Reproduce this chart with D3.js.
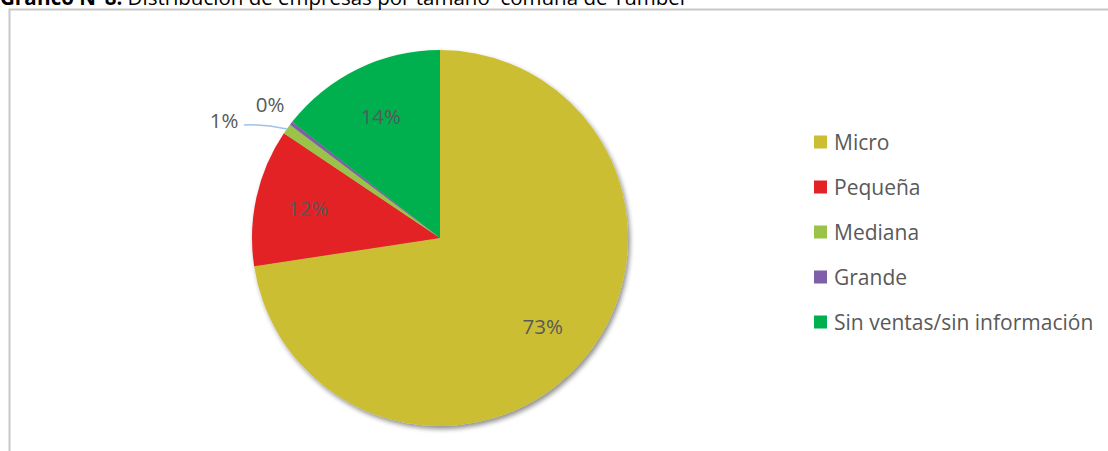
<!DOCTYPE html>
<html><head><meta charset="utf-8">
<script src="https://cdn.jsdelivr.net/npm/d3@7/dist/d3.min.js"></script>
<style>body{margin:0;background:#fff;}svg{display:block;}</style>
</head><body>
<svg id="c" width="1108" height="451"></svg>
<script>
const categories = ["Micro","Pequeña","Mediana","Grande","Sin ventas/sin información"];
const values = [72.6, 11.8, 0.9, 0.3, 14.4];
const labels = ["73%","12%","1%","0%","14%"];
const colors = ["#CCBE32","#E32228","#9BC34A","#7F5FA8","#00B050"];

const svg = d3.select("#c");
const font = "'Open Sans', sans-serif";

// frame
svg.append("rect").attr("x",9.5).attr("y",9.5).attr("width",1120).attr("height",460)
  .attr("fill","none").attr("stroke","#C8C8C8").attr("stroke-width",2);

// title (cut at top like the reference)
const t = svg.append("text").attr("x",0).attr("y",5).attr("font-family",font).attr("font-size",20.5)
  .attr("fill","#000").style("white-space","pre");
t.append("tspan").attr("font-weight","bold").text("Gráfico N°8:");
t.append("tspan").text(" Distribución de empresas por tamaño  comuna de Yumbel");

const defs = svg.append("defs");
const f = defs.append("filter").attr("id","sh").attr("x","-10%").attr("y","-10%").attr("width","130%").attr("height","130%");
f.append("feGaussianBlur").attr("in","SourceAlpha").attr("stdDeviation",2.5);
f.append("feOffset").attr("dx",1.5).attr("dy",2.5).attr("result","b");
f.append("feComponentTransfer").append("feFuncA").attr("type","linear").attr("slope",0.45);
const m = f.append("feMerge"); m.append("feMergeNode"); m.append("feMergeNode").attr("in","SourceGraphic");

const cx = 440, cy = 238, r = 188;
const pie = d3.pie().sort(null).value(d=>d)(values);
const arc = d3.arc().innerRadius(0).outerRadius(r);
const g = svg.append("g").attr("transform",`translate(${cx},${cy})`);
g.append("g").attr("filter","url(#sh)").selectAll("path").data(pie).join("path")
  .attr("d",arc).attr("fill",(d,i)=>colors[i]);

// labels
const lab = d3.arc().innerRadius(r*0.72).outerRadius(r*0.72);
pie.forEach((d,i)=>{
  let p;
  if (i===2) p = [-216, -117];
  else if (i===3) p = [-170, -133];
  else p = lab.centroid(d);
  g.append("text").attr("x",p[0]).attr("y",p[1]).attr("dy","0.36em")
    .attr("text-anchor","middle").attr("font-family",font).attr("font-size",20.5)
    .attr("fill","#595959").text(labels[i]);
});
// leader line for Mediana
{
  const d = pie[2];
  const a = (d.startAngle+d.endAngle)/2;
  const ex = Math.sin(a)*r, ey = -Math.cos(a)*r;
  g.append("path").attr("d",`M${-196},${-113} Q${-175},${-114} ${ex},${ey}`)
    .attr("fill","none").attr("stroke","#9DC3E6").attr("stroke-width",1.5);
}

// legend
const lg = svg.append("g").attr("transform","translate(814,142)");
categories.forEach((c,i)=>{
  const row = lg.append("g").attr("transform",`translate(0,${i*45})`);
  row.append("rect").attr("x",0).attr("y",-6.5).attr("width",13).attr("height",13).attr("fill",colors[i]);
  row.append("text").attr("x",20).attr("y",0).attr("dy","0.36em").attr("font-family",font)
    .attr("font-size",21).attr("fill","#595959").text(c);
});
</script>
</body></html>
